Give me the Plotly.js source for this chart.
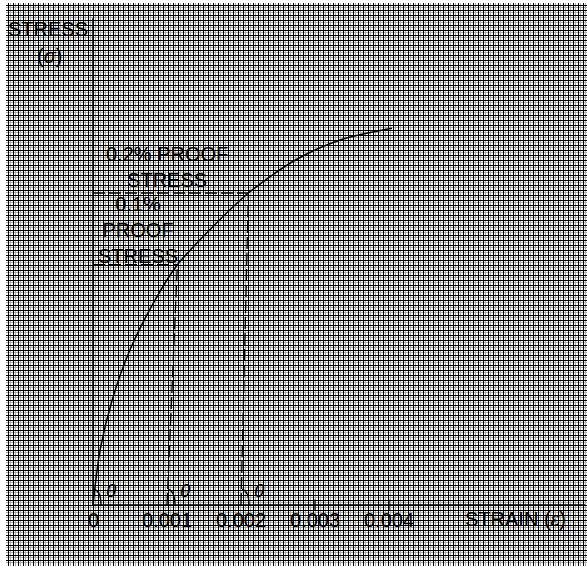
<!DOCTYPE html>
<html>
<head>
<meta charset="utf-8">
<script src="https://cdn.plot.ly/plotly-3.0.1.min.js"></script>
<style>html,body{margin:0;padding:0;background:#fff;}#chart{width:587px;height:569px;}</style>
</head>
<body>
<div id="chart"></div>
<script>
// ---- data ----
const curveStrain = [0, 0.000095, 0.00026, 0.0005, 0.00084, 0.00114, 0.00158, 0.0021, 0.00273, 0.00334, 0.00404];
const curveStress = [0, 70, 135, 199, 263, 308, 353, 400, 442, 468, 483];
const offsetBase = [0.001, 0.002];          // offset strains of proof lines
const proofStrain = [0.00114, 0.0021];      // intersection with curve
const proofStress = [308, 400];             // 0.1% and 0.2% proof stress
const tickValues = [0, 0.001, 0.002, 0.003, 0.004];
const tickLabels = ['0', '0.001', '0.002', '0.003', '0.004'];
const angleBases = [0, 0.001, 0.002];
const angleLabel = 'θ';
const axisTopStress = 624;
const axisEndStrain = 0.00665;

// ---- geometry of the page ----
const W = 587, H = 569;
const M = {l: 6, r: 0, t: 3, b: 3};
const pxPerStrain = 74000, pxPerStress = 0.78;
const originPx = {x: 93, y: 505};
const xRange = [(M.l - originPx.x) / pxPerStrain, (W - M.r - originPx.x) / pxPerStrain];
const yRange = [(originPx.y - (H - M.b)) / pxPerStress, (originPx.y - M.t) / pxPerStress];
const pw = W - M.l - M.r, ph = H - M.t - M.b;
function P(px, py) { return {x: (px - M.l) / pw, y: 1 - (py - M.t) / ph, xref: 'paper', yref: 'paper'}; }

const FONT = 'Liberation Sans, Arial, Helvetica, sans-serif';
const black = '#000';

const traces = [];
// main curve
traces.push({x: curveStrain, y: curveStress, mode: 'lines', line: {color: black, width: 1.5, shape: 'spline', smoothing: 0.8}, hoverinfo: 'skip'});
// axes
traces.push({x: [0, 0], y: [0, axisTopStress], mode: 'lines', line: {color: black, width: 1.5}, hoverinfo: 'skip'});
traces.push({x: [0, axisEndStrain], y: [0, 0], mode: 'lines', line: {color: black, width: 1.5}, hoverinfo: 'skip'});
// proof stress horizontal dashed lines and offset lines
for (let i = 0; i < proofStress.length; i++) {
  traces.push({x: [0, proofStrain[i]], y: [proofStress[i], proofStress[i]], mode: 'lines', line: {color: black, width: 1.3, dash: '12px,4px'}, hoverinfo: 'skip'});
  traces.push({x: [offsetBase[i], proofStrain[i]], y: [0, proofStress[i]], mode: 'lines', line: {color: black, width: 1.3, dash: '12px,4px'}, hoverinfo: 'skip'});
}
// small ticks on strain axis
traces.push({x: tickValues.slice(3), y: tickValues.slice(3).map(() => 0), mode: 'markers', marker: {symbol: 'line-ns', size: 8, line: {color: black, width: 1.3}}, hoverinfo: 'skip'});

const annotations = [];
function txt(px, py, text, extra) {
  return Object.assign(P(px, py), {text: text, showarrow: false, xanchor: 'center', yanchor: 'middle', font: {family: FONT, size: 20, color: black}}, extra || {});
}
annotations.push(txt(48, 29, 'STRESS'));
annotations.push(txt(49, 56, '(<i>σ</i>)'));
annotations.push(txt(167, 167, '0.2% PROOF<br>STRESS'));
annotations.push(txt(138, 230, '0.1%<br>PROOF<br>STRESS'));
annotations.push(txt(515, 519, 'STRAIN (<i>ε</i>)'));
for (let i = 0; i < tickValues.length; i++) {
  annotations.push({x: tickValues[i], y: 0, xref: 'x', yref: 'y', yshift: -15, text: tickLabels[i], showarrow: false, xanchor: 'center', yanchor: 'middle', font: {family: FONT, size: 20, color: black}});
}
for (let i = 0; i < angleBases.length; i++) {
  annotations.push({x: angleBases[i], y: 0, xref: 'x', yref: 'y', xshift: 18, yshift: 15, text: '<i>' + angleLabel + '</i>', showarrow: false, xanchor: 'center', yanchor: 'middle', font: {family: FONT, size: 19, color: black}});
}

const shapes = angleBases.map(b => ({
  type: 'path', xref: 'x', yref: 'y', xsizemode: 'pixel', ysizemode: 'pixel', xanchor: b, yanchor: 0,
  path: 'M 1,16 Q 8,14 8,0', line: {color: black, width: 1.3}
}));

const layout = {
  width: W, height: H, margin: Object.assign({pad: 0}, M),
  paper_bgcolor: '#fff', plot_bgcolor: '#fff', showlegend: false,
  xaxis: {range: xRange, showgrid: true, gridcolor: '#000', gridwidth: 1, tick0: 0, dtick: 5 / pxPerStrain,
          minor: {dtick: 2.5 / pxPerStrain, showgrid: true, gridcolor: '#a8a8a8', gridwidth: 1},
          showticklabels: false, ticks: '', zeroline: false, showline: false, fixedrange: true},
  yaxis: {range: yRange, showgrid: true, gridcolor: '#000', gridwidth: 1, tick0: 0, dtick: 5 / pxPerStress,
          minor: {dtick: 2.5 / pxPerStress, showgrid: true, gridcolor: '#a8a8a8', gridwidth: 1},
          showticklabels: false, ticks: '', zeroline: false, showline: false, fixedrange: true},
  annotations: annotations, shapes: shapes
};
Plotly.newPlot('chart', traces, layout, {staticPlot: true, displayModeBar: false});
</script>
</body>
</html>
